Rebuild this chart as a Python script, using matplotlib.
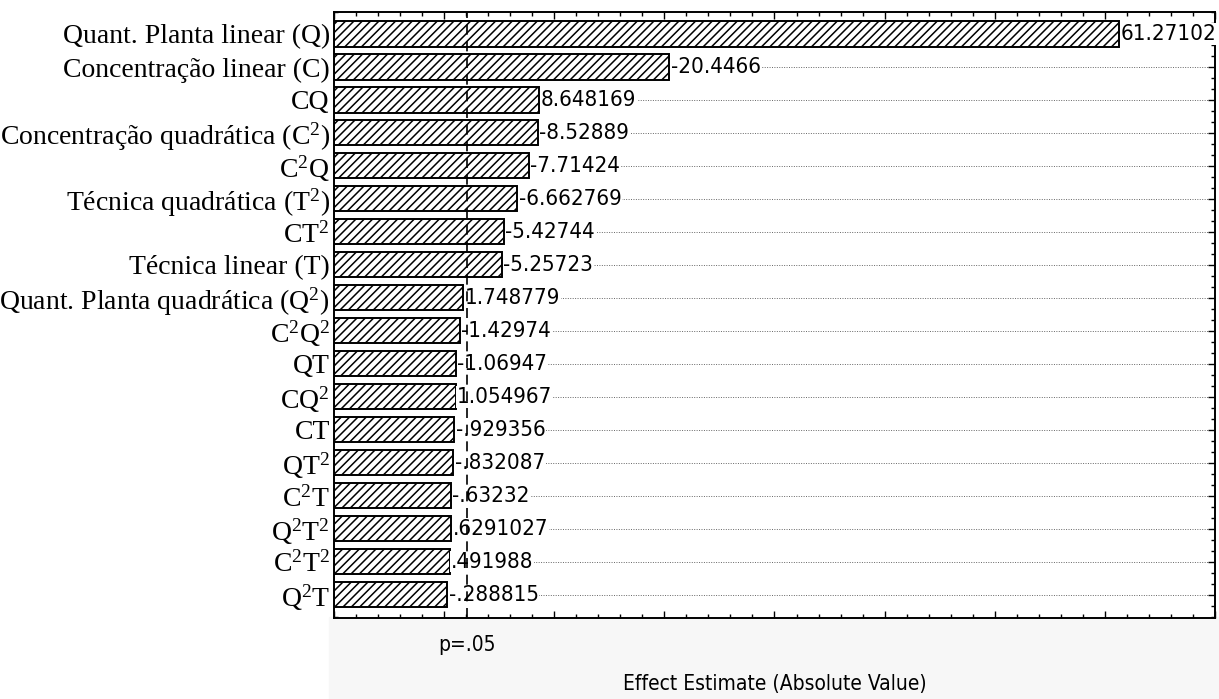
import matplotlib.pyplot as plt
from matplotlib.patches import Rectangle
from matplotlib.ticker import MultipleLocator
import numpy as np

# Pareto chart of standardized effects
terms = [
    "Quant. Planta linear (Q)",
    "Concentração linear (C)",
    "CQ",
    "Concentração quadrática (C$^2$)",
    "C$^2$Q",
    "Técnica quadrática (T$^2$)",
    "CT$^2$",
    "Técnica linear (T)",
    "Quant. Planta quadrática (Q$^2$)",
    "C$^2$Q$^2$",
    "QT",
    "CQ$^2$",
    "CT",
    "QT$^2$",
    "C$^2$T",
    "Q$^2$T$^2$",
    "C$^2$T$^2$",
    "Q$^2$T",
]
effects = [
    61.27102, -20.4466, 8.648169, -8.52889, -7.71424, -6.662769,
    -5.42744, -5.25723, 1.748779, -1.42974, -1.06947, 1.054967,
    -0.929356, -0.832087, -0.63232, 0.6291027, 0.491988, -0.288815,
]
p_crit = 2.06
x_min, x_max = -10, 70

plt.rcParams["mathtext.fontset"] = "custom"
plt.rcParams["mathtext.rm"] = "Liberation Serif"
plt.rcParams["mathtext.it"] = "Liberation Serif:italic"
plt.rcParams["hatch.linewidth"] = 1.1

narrow = dict(family="DejaVu Sans", stretch="condensed")


def fmt(v):
    # statistica style: 7 significant digits, no leading zero
    s = f"{v:.7g}"
    return s.replace("0.", ".", 1) if s.lstrip("-").startswith("0.") else s


fig = plt.figure(figsize=(12.19, 6.99), dpi=100)
fig.patches.append(Rectangle((0.27, 0), 0.73, 0.118, transform=fig.transFigure,
                             color="#f7f7f7", zorder=-10))
ax = fig.add_axes([0.274, 0.116, 0.7227, 0.867])

y = np.arange(len(effects))
mag = np.abs(effects)

ax.barh(y, mag - x_min, left=x_min, height=0.76, color="white",
        edgecolor="black", linewidth=1.4, hatch="////", zorder=2)

for yi, m, v in zip(y, mag, effects):
    ax.annotate(fmt(v), (m, yi), xytext=(1, 0), textcoords="offset points",
                va="center", ha="left", fontsize=16, **narrow,
                bbox=dict(facecolor="white", edgecolor="none", pad=0.5),
                zorder=3)

ax.axvline(p_crit, color="black", linestyle=(0, (6, 4)), linewidth=1.2, zorder=4)

ax.set_xlim(x_min, x_max)
ax.set_ylim(len(effects) - 0.3, -0.67)
ax.set_yticks(y)
ax.set_yticklabels(terms, family="Liberation Serif", fontsize=20)
ax.yaxis.set_minor_locator(MultipleLocator(1 / 3))
ax.xaxis.set_major_locator(MultipleLocator(10))
ax.xaxis.set_minor_locator(MultipleLocator(2))
ax.set_xticklabels([])
ax.tick_params(which="both", direction="in", top=True, right=True, color="black")
ax.tick_params(which="major", length=5, width=1)
ax.tick_params(which="minor", length=3, width=1)
ax.tick_params(axis="y", which="major", pad=3)

ax.grid(axis="y", linestyle=(0, (1, 1.5)), color="#666666", linewidth=0.7, zorder=0)
ax.set_axisbelow(True)
for s in ax.spines.values():
    s.set_linewidth(1.4)

ax.text(p_crit, -0.028, "p=.05", transform=ax.get_xaxis_transform(),
        ha="center", va="top", fontsize=15, **narrow)
ax.set_xlabel("Effect Estimate (Absolute Value)", fontsize=15, **narrow,
              labelpad=37)

fig.savefig("out.png", dpi=100)
